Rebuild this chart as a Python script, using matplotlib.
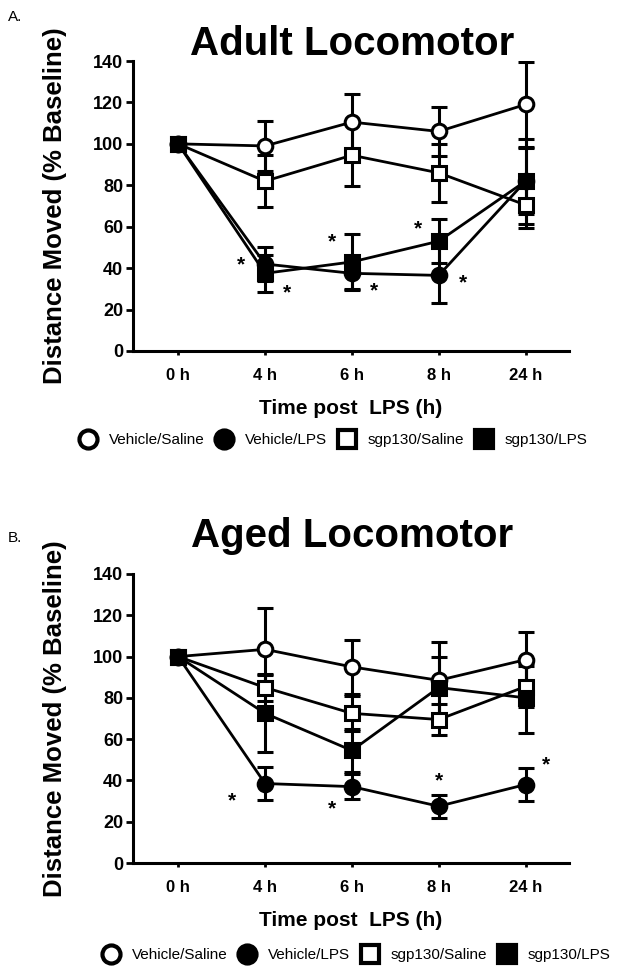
import matplotlib
matplotlib.use('Agg')
import matplotlib.pyplot as plt
from matplotlib.lines import Line2D

plt.rcParams['font.family'] = ['Liberation Sans', 'DejaVu Sans']

timepoints = ['0 h', '4 h', '6 h', '8 h', '24 h']
groups = ['Vehicle/Saline', 'Vehicle/LPS', 'sgp130/Saline', 'sgp130/LPS']

# adult panel (% baseline, mean and sem)
adult_mean = {
    'Vehicle/Saline': [100, 99, 110.5, 106, 119],
    'Vehicle/LPS':    [100, 42, 37.5, 36.5, 82],
    'sgp130/Saline':  [100, 82, 94.5, 86, 70.5],
    'sgp130/LPS':     [100, 37.5, 43, 53, 82],
}
adult_err = {
    'Vehicle/Saline': [0, 12, 13.5, 12, 20.5],
    'Vehicle/LPS':    [0, 8, 7.5, 13.5, 20.5],
    'sgp130/Saline':  [0, 12.5, 15, 14, 11],
    'sgp130/LPS':     [0, 9, 13.5, 10.5, 16],
}
adult_stars_x = [0.72, 1.25, 1.77, 2.25, 2.76, 3.28]
adult_stars_y = [41.5, 28, 52.5, 29, 59, 33]

# aged panel
aged_mean = {
    'Vehicle/Saline': [100, 103.5, 95, 88.5, 98.5],
    'Vehicle/LPS':    [100, 38.5, 37, 27.5, 38],
    'sgp130/Saline':  [100, 85, 72.5, 69.5, 85.5],
    'sgp130/LPS':     [100, 72.5, 54.5, 85, 80],
}
aged_err = {
    'Vehicle/Saline': [0, 20, 13, 18.5, 13.5],
    'Vehicle/LPS':    [0, 8, 6, 5.5, 8],
    'sgp130/Saline':  [0, 6.5, 8.5, 7.5, 10],
    'sgp130/LPS':     [0, 18.5, 10.5, 15, 17],
}
aged_stars_x = [0.62, 1.77, 3.0, 4.24]
aged_stars_y = [30, 26, 40, 47.5]

styles = {
    'Vehicle/Saline': dict(marker='o', mfc='white'),
    'Vehicle/LPS':    dict(marker='o', mfc='black'),
    'sgp130/Saline':  dict(marker='s', mfc='white'),
    'sgp130/LPS':     dict(marker='s', mfc='black'),
}

W, H = 624, 974
fig = plt.figure(figsize=(W / 100, H / 100), dpi=100)


def draw_panel(ax, means, errs, sx, sy, title, letter, letter_y, title_y):
    x = list(range(len(timepoints)))
    for g in groups:
        st = styles[g]
        ax.errorbar(x, means[g], yerr=errs[g], color='black', lw=2.0,
                    marker=st['marker'], ms=10.5, mfc=st['mfc'], mec='black',
                    mew=2.2, elinewidth=2.2, capsize=6, capthick=2.2, zorder=3)
    for a, b in zip(sx, sy):
        ax.text(a, b, '*', ha='center', va='center', fontsize=15, fontweight='bold')
    ax.set_xlim(-0.52, 4.5)
    ax.set_ylim(0, 140)
    ax.set_yticks(range(0, 141, 20))
    ax.set_xticks(x)
    ax.set_xticklabels(timepoints)
    for s in ['top', 'right']:
        ax.spines[s].set_visible(False)
    for s in ['left', 'bottom']:
        ax.spines[s].set_linewidth(2.2)
    ax.tick_params(axis='y', length=5, width=2, labelsize=13, pad=2)
    ax.tick_params(axis='x', length=3, width=2, labelsize=12, pad=9)
    for lab in ax.get_xticklabels() + ax.get_yticklabels():
        lab.set_fontweight('bold')
    ax.set_ylabel('Distance Moved (% Baseline)', fontsize=18.5, fontweight='bold')
    ax.yaxis.set_label_coords(-0.151, 0.5)
    ax.set_xlabel('Time post  LPS (h)', fontsize=15, fontweight='bold', labelpad=12)
    fig.text(352 / W, title_y, title, ha='center', va='baseline',
             fontsize=29, fontweight='bold')
    fig.text(8 / W, letter_y, letter, fontsize=11, va='center')


axA = fig.add_axes([133 / W, 1 - 351 / H, 436 / W, 290 / H])
draw_panel(axA, adult_mean, adult_err, adult_stars_x, adult_stars_y,
           'Adult Locomotor', 'A.', 1 - 17 / H, 1 - 55 / H)
axB = fig.add_axes([133 / W, 1 - 863 / H, 436 / W, 289 / H])
draw_panel(axB, aged_mean, aged_err, aged_stars_x, aged_stars_y,
           'Aged Locomotor', 'B.', 1 - 538 / H, 1 - 547 / H)

handles = []
for g in groups:
    st = styles[g]
    handles.append(Line2D([], [], ls='none', marker=st['marker'], ms=13,
                          mfc=st['mfc'], mec='black', mew=3))

leg_kw = dict(loc='center', ncol=4, frameon=False, fontsize=11, handletextpad=0.9,
              columnspacing=0.75, handlelength=1.0)
fig.legend(handles, groups, bbox_to_anchor=(334 / W, 1 - 440 / H), **leg_kw)
fig.legend(handles, groups, bbox_to_anchor=(357 / W, 1 - 955 / H), **leg_kw)

fig.savefig('out.png', dpi=100)
